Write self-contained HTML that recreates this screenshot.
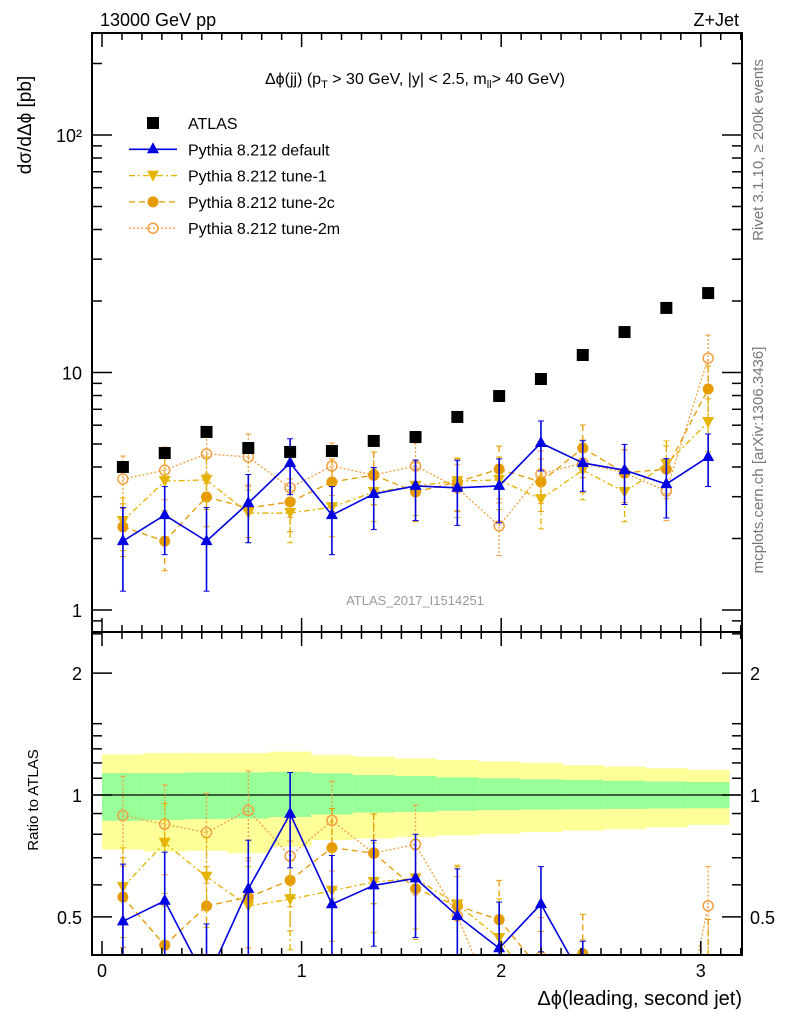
<!DOCTYPE html>
<html><head><meta charset="utf-8"><style>
html,body{margin:0;padding:0;background:#fff;width:786px;height:1024px;overflow:hidden}
svg{display:block;font-family:"Liberation Sans",sans-serif}
</style></head><body>
<svg id="c" width="786" height="1024" viewBox="0 0 786 1024" xmlns="http://www.w3.org/2000/svg">
<defs>
<clipPath id="cm"><rect x="92" y="33" width="650" height="599"/></clipPath>
<clipPath id="cr"><rect x="92" y="632" width="650" height="323"/></clipPath>
</defs>
<g id="bands" clip-path="url(#cr)"></g>
<g id="series"></g>
<g id="axes"></g>
<text x="100" y="26" font-size="18">13000 GeV pp</text>
<text x="739" y="26" font-size="18" text-anchor="end">Z+Jet</text>
<text x="415" y="84" font-size="16" text-anchor="middle">Δϕ(jj) (p<tspan font-size="11" dy="4">T</tspan><tspan dy="-4"> &gt; 30 GeV, |y| &lt; 2.5, m</tspan><tspan font-size="11" dy="4">ll</tspan><tspan dy="-4">&gt; 40 GeV)</tspan></text>
<text x="415" y="605" font-size="13" fill="#999" text-anchor="middle">ATLAS_2017_I1514251</text>
<text transform="translate(31,125) rotate(-90)" font-size="19" text-anchor="middle">dσ/dΔϕ [pb]</text>
<text transform="translate(38,800) rotate(-90)" font-size="15" text-anchor="middle">Ratio to ATLAS</text>
<text x="742" y="1005" font-size="20" text-anchor="end">Δϕ(leading, second jet)</text>
<text transform="translate(763,150) rotate(-90)" font-size="15" fill="#777" text-anchor="middle">Rivet 3.1.10, ≥ 200k events</text>
<text transform="translate(763,460) rotate(-90)" font-size="15" fill="#777" text-anchor="middle">mcplots.cern.ch [arXiv:1306.3436]</text>
<g id="legend"></g>
</svg>
<script>
const binCenters=[0.1047,0.3142,0.5236,0.7330,0.9425,1.1519,1.3614,1.5708,1.7802,1.9897,2.1991,2.4086,2.6180,2.8274,3.0369];
const atlas=[4.0,4.58,5.62,4.81,4.63,4.67,5.15,5.35,6.5,7.96,9.39,11.85,14.8,18.7,21.6];
const pyDefault=[1.95,2.51,1.95,2.82,4.16,2.51,3.08,3.33,3.27,3.33,5.05,4.16,3.88,3.39,4.41];
const pyDefaultErr=[0.75,0.8,0.75,0.9,1.1,0.8,0.9,0.95,1.0,1.0,1.2,1.0,1.1,0.95,1.1];
const tune1=[2.37,3.49,3.53,2.56,2.56,2.71,3.14,3.33,3.49,3.53,2.93,3.88,3.14,4.12,6.19];
const tune2c=[2.24,1.95,2.99,2.69,2.85,3.46,3.70,3.14,3.46,3.92,3.46,4.81,3.78,3.92,8.52];
const tune2m=[3.56,3.88,4.54,4.41,3.27,4.04,3.70,4.04,3.27,2.26,3.74,4.16,3.78,3.17,11.5];
const yellowUp=[1.26,1.27,1.27,1.27,1.28,1.255,1.244,1.23,1.22,1.21,1.20,1.186,1.175,1.164,1.153];
const yellowDn=[0.734,0.725,0.728,0.718,0.745,0.774,0.781,0.788,0.795,0.802,0.81,0.817,0.824,0.832,0.843];
const greenUp=[1.133,1.133,1.137,1.137,1.141,1.131,1.12,1.114,1.106,1.10,1.094,1.09,1.084,1.08,1.076];
const greenDn=[0.864,0.868,0.872,0.875,0.882,0.895,0.905,0.908,0.914,0.918,0.92,0.922,0.924,0.926,0.927];
const xTicks=[0,1,2,3];
const mainTickLabels=["1","10","10²"];
const ratioTickLabels=["0.5","1","2"];

const NS="http://www.w3.org/2000/svg";
const X=v=>102+199.6*v;
const Y=v=>610-237.5*Math.log10(v);
const R=v=>795-405*Math.log10(v);
const binW=Math.PI/15;
function mk(tag,attrs,parent){const e=document.createElementNS(NS,tag);for(const k in attrs)e.setAttribute(k,attrs[k]);parent.appendChild(e);return e;}
const bands=document.getElementById('bands'),axes=document.getElementById('axes'),ser=document.getElementById('series'),leg=document.getElementById('legend');

binCenters.forEach((c,i)=>{
  let r=mk('rect',{x:X(c-binW/2),y:R(yellowUp[i]),width:X(c+binW/2)-X(c-binW/2)+0.5,height:R(yellowDn[i])-R(yellowUp[i]),fill:'#ffff99'},bands);
  
  
  let g=mk('rect',{x:X(c-binW/2),y:R(greenUp[i]),width:X(c+binW/2)-X(c-binW/2)+0.5,height:R(greenDn[i])-R(greenUp[i]),fill:'#99ff99'},bands);
  
  
});
let one=mk('line',{x1:92,x2:742,y1:R(1),y2:R(1),stroke:'#000','stroke-width':1.2},bands);



[[33,632],[632,955]].forEach(([t,b])=>{
  let f=mk('rect',{x:92,y:t,width:650,height:b-t,fill:'none',stroke:'#000','stroke-width':2},axes);
  
  
});
[[632,33],[955,632]].forEach(([b,t])=>{
  for(let k=0;k<=32;k++){const v=k/10;if(v>3.2)break;const maj=k%10==0;const L=maj?14:7;
    mk('line',{x1:X(v),x2:X(v),y1:b,y2:b-L,stroke:'#000','stroke-width':1.5},axes);
    mk('line',{x1:X(v),x2:X(v),y1:t,y2:t+L,stroke:'#000','stroke-width':1.5},axes);}
});
xTicks.forEach(v=>{let t=mk('text',{x:X(v),y:977,'font-size':18,'text-anchor':'middle'},axes);t.textContent=v;
  
  });
for(let d=-1;d<=2;d++)for(let m=1;m<10;m++){const v=m*Math.pow(10,d);const y=Y(v);if(y<33||y>632)continue;const L=m==1?20:10;
  mk('line',{x1:92,x2:92+L,y1:y,y2:y,stroke:'#000','stroke-width':1.5},axes);
  mk('line',{x1:742,x2:742-L,y1:y,y2:y,stroke:'#000','stroke-width':1.5},axes);}
[1,10,100].forEach((v,i)=>{let t=mk('text',{x:82,y:Y(v)+7,'font-size':18,'text-anchor':'end'},axes);t.textContent=mainTickLabels[i];
  
  });
[0.5,0.6,0.7,0.8,0.9,1,1.1,1.2,1.3,1.4,1.5,2,2.5].forEach(v=>{const y=R(v);if(y<632||y>955)return;const L=(v==0.5||v==1||v==2)?20:10;
  mk('line',{x1:92,x2:92+L,y1:y,y2:y,stroke:'#000','stroke-width':1.5},axes);
  mk('line',{x1:742,x2:742-L,y1:y,y2:y,stroke:'#000','stroke-width':1.5},axes);});
[0.5,1,2].forEach((v,i)=>{
  let t=mk('text',{x:82,y:R(v)+7,'font-size':18,'text-anchor':'end'},axes);t.textContent=ratioTickLabels[i];
  
  
  let t2=mk('text',{x:750,y:R(v)+7,'font-size':18},axes);t2.textContent=ratioTickLabels[i];
  
  });

function marker(g,type,x,y,col){
  if(type=='sq')return mk('rect',{x:x-6,y:y-6,width:12,height:12,fill:'#000'},g);
  if(type=='up')return mk('polygon',{points:`${x},${y-7} ${x-6},${y+4} ${x+6},${y+4}`,fill:col},g);
  if(type=='dn')return mk('polygon',{points:`${x},${y+6} ${x-6},${y-5} ${x+6},${y-5}`,fill:col},g);
  if(type=='fc')return mk('circle',{cx:x,cy:y,r:5.5,fill:col},g);
  if(type=='oc')return mk('circle',{cx:x,cy:y,r:5,fill:'none',stroke:col,'stroke-width':1.5},g);
}
const series=[
 {name:'pythia-default',vals:pyDefault,err:pyDefaultErr,col:'#0000e0',dash:'',m:'up',w:1.6,label:'Pythia 8.212 default'},
 {name:'pythia-tune-1',vals:tune1,err:null,col:'#e6b400',dash:'6,3,2,3',m:'dn',w:1.3,label:'Pythia 8.212 tune-1'},
 {name:'pythia-tune-2c',vals:tune2c,err:null,col:'#e69b00',dash:'6,4',m:'fc',w:1.3,label:'Pythia 8.212 tune-2c'},
 {name:'pythia-tune-2m',vals:tune2m,err:null,col:'#f0a040',dash:'2,2',m:'oc',w:1.3,label:'Pythia 8.212 tune-2m'}];

function clipSeg(x1,y1,x2,y2,top,bot){
  let t0=0,t1=1;const dy=y2-y1;
  if(dy===0){if(y1<top||y1>bot)return null;}
  else{let ta=(top-y1)/dy,tb=(bot-y1)/dy;if(ta>tb)[ta,tb]=[tb,ta];t0=Math.max(t0,ta);t1=Math.min(t1,tb);if(t0>=t1)return null;}
  return [x1+(x2-x1)*t0,y1+dy*t0,x1+(x2-x1)*t1,y1+dy*t1];
}
function draw(panel){
  const clip=panel=='main'?'url(#cm)':'url(#cr)';
  const F=panel=='main'?Y:R;
  const top=panel=='main'?33:632,bot=panel=='main'?632:955;
  const cl=y=>Math.min(bot,Math.max(top,y));
  series.slice().reverse().forEach(s=>{
    const g=mk('g',{'clip-path':clip},ser);
    
    
    const vals=s.vals.map((v,i)=>panel=='main'?v:v/atlas[i]);
    const errs=s.vals.map((v,i)=>(s.err?s.err[i]:v*0.25)*(panel=='main'?1:1/atlas[i]));
    vals.forEach((v,i)=>{const x=X(binCenters[i]);const lo=Math.max(v-errs[i],1e-3);
      const yh=F(v+errs[i]),yl=F(lo);
      if(yl<top||yh>bot)return;
      mk('line',{x1:x,x2:x,y1:cl(yh),y2:cl(yl),stroke:s.col,'stroke-width':s.w,'stroke-dasharray':s.dash},g);
      if(yh>=top)mk('line',{x1:x-3,x2:x+3,y1:yh,y2:yh,stroke:s.col,'stroke-width':1},g);
      if(yl<=bot)mk('line',{x1:x-3,x2:x+3,y1:yl,y2:yl,stroke:s.col,'stroke-width':1},g);});
    for(let i=0;i<vals.length-1;i++){
      const c=clipSeg(X(binCenters[i]),F(vals[i]),X(binCenters[i+1]),F(vals[i+1]),top,bot);
      if(!c)continue;
      mk('line',{x1:c[0],y1:c[1],x2:c[2],y2:c[3],stroke:s.col,'stroke-width':s.w,'stroke-dasharray':s.dash},g);
    }
    vals.forEach((v,i)=>{const y=F(v);if(y<top-3||y>bot+3)return;const p=marker(g,s.m,X(binCenters[i]),y,s.col);
      
      });
  });
}
draw('main');draw('ratio');
const ga=mk('g',{'clip-path':'url(#cm)'},ser);


atlas.forEach((v,i)=>{const p=marker(ga,'sq',X(binCenters[i]),Y(v));
  
  });

const rows=[{label:'ATLAS',m:'sq',col:'#000',dash:null}].concat(series.map(s=>({label:s.label,m:s.m,col:s.col,dash:s.dash,w:s.w})));
rows.forEach((r,i)=>{const y=123+26.3*i;
  const g=mk('g',{},leg);
  
  
  if(r.dash!==null)mk('line',{x1:129,x2:177,y1:y,y2:y,stroke:r.col,'stroke-width':r.w,'stroke-dasharray':r.dash},g);
  marker(g,r.m,153,y,r.col);
  const t=mk('text',{x:188,y:y+6,'font-size':16},g);t.textContent=r.label;});
</script>
</body></html>
